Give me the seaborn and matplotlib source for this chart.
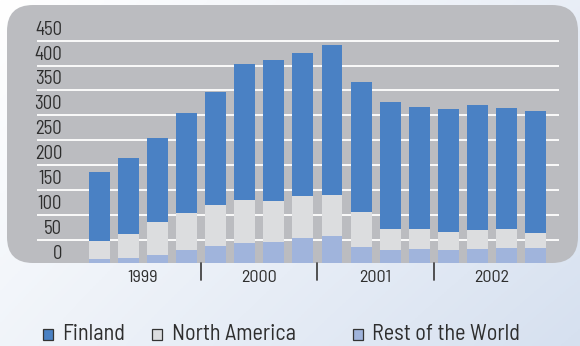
import numpy as np
import pandas as pd
import matplotlib
matplotlib.use("Agg")
import matplotlib.pyplot as plt
import matplotlib.transforms as mtransforms
from matplotlib.patches import FancyBboxPatch, Rectangle
import seaborn as sns

# ---- data ----
quarters = ["1999 Q1", "1999 Q2", "1999 Q3", "1999 Q4",
            "2000 Q1", "2000 Q2", "2000 Q3", "2000 Q4",
            "2001 Q1", "2001 Q2", "2001 Q3", "2001 Q4",
            "2002 Q1", "2002 Q2", "2002 Q3", "2002 Q4"]
finland = [138, 153, 168, 201, 227, 274, 283, 287, 301, 261, 255, 245, 247, 251, 243, 245]
north_america = [37, 47, 67, 74, 82, 86, 82, 85, 83, 71, 43, 41, 37, 39, 39, 31]
rest_world = [11, 14, 19, 30, 38, 44, 46, 53, 57, 35, 29, 31, 29, 31, 33, 33]
years = ["1999", "2000", "2001", "2002"]
ytick_values = [0, 50, 100, 150, 200, 250, 300, 350, 400, 450]
series_names = ["Finland", "North America", "Rest of the World"]

sns.set_theme(style="white")
plt.rcParams["font.family"] = ["Barlow Semi Condensed", "Archivo Narrow", "Liberation Sans", "DejaVu Sans"]

c_fin = "#4A81C4"
c_na = "#DCDDDF"
c_row = "#A0B4DC"
c_panel = "#BBBCC0"
c_text = "#2E2E2E"

W, H = 580, 346
fig = plt.figure(figsize=(W / 100, H / 100), dpi=100)

bg = fig.add_axes([0, 0, 1, 1])
bg.set_xlim(0, W)
bg.set_ylim(H, 0)
bg.axis("off")
xx, yy = np.meshgrid(np.linspace(0, 1, 200), np.linspace(0, 1, 120))
t = np.clip(0.55 * xx + 0.35 * yy + 0.1 * xx * yy, 0, 1)
c0 = np.array([1.0, 1.0, 1.0])
c1 = np.array([0.84, 0.88, 0.94])
img = c0[None, None, :] * (1 - t[..., None]) + c1[None, None, :] * t[..., None]
bg.imshow(img, extent=(0, W, H, 0), aspect="auto", zorder=0)
panel = FancyBboxPatch((7, 5), 571, 258, boxstyle="round,pad=0,rounding_size=26",
                       facecolor=c_panel, edgecolor="none", zorder=1)
bg.add_patch(panel)

left_px, right_px, bottom_px, top_px = 37, 559, 263, 38
ax = fig.add_axes([left_px / W, (H - bottom_px) / H,
                   (right_px - left_px) / W, (bottom_px - top_px) / H])
ax.patch.set_alpha(0)

df = pd.DataFrame({"quarter": quarters, "fin": finland, "na": north_america, "row": rest_world})
df["top"] = df["fin"] + df["na"] + df["row"]
df["mid"] = df["na"] + df["row"]

for v in ytick_values[1:]:
    ax.axhline(v, color="white", lw=1.3, zorder=0.5)

for col, colr, z in [("top", c_fin, 2), ("mid", c_na, 3), ("row", c_row, 4)]:
    sns.barplot(data=df, x="quarter", y=col, order=quarters, color=colr, saturation=1,
                width=0.72, ax=ax, zorder=z, edgecolor="none", linewidth=0)

ax.set_xlim(-2.15, 15.81)
ax.set_ylim(3.2, 455.5)
for s in ax.spines.values():
    s.set_visible(False)
ax.set_xlabel("")
ax.set_ylabel("")
ax.set_yticks([])
ax.set_xticks([1.5, 5.5, 9.5, 13.5])
ax.set_xticklabels(years, fontsize=13, color=c_text)
ax.tick_params(axis="x", length=0, pad=5)

trans = mtransforms.blended_transform_factory(ax.transAxes, ax.transData)
off = mtransforms.ScaledTranslation(0, 11 / 100, fig.dpi_scale_trans)
for v in ytick_values:
    ax.text(0.048, v, str(v), transform=trans + off, ha="right", va="center",
            fontsize=13.5, color=c_text, clip_on=False)

tsep = mtransforms.blended_transform_factory(ax.transData, ax.transAxes)
for xs in [3.5, 7.5, 11.5]:
    ax.plot([xs, xs], [0, -0.075], transform=tsep, color="#444444", lw=1.3,
            clip_on=False, zorder=5)

leg_items = [(43, 62, c_fin, series_names[0]),
             (152, 172, c_na, series_names[1]),
             (353, 372, c_row, series_names[2])]
for sx, tx, col, name in leg_items:
    bg.add_patch(Rectangle((sx, 329), 10, 10.5, facecolor=col, edgecolor="#333333",
                           lw=0.9, zorder=3))
    bg.text(tx, 340, name, ha="left", va="baseline", fontsize=16, color=c_text, zorder=3)

fig.savefig("out.png", dpi=100)
